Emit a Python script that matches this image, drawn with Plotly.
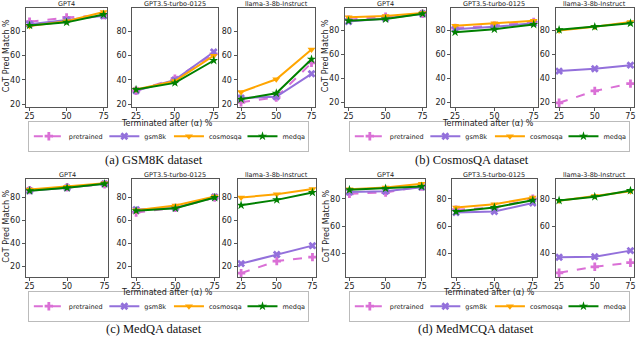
import plotly.graph_objects as go

alpha = [25, 50, 75]
series = ["pretrained", "gsm8k", "cosmosqa", "medqa"]
models = ["GPT4", "GPT3.5-turbo-0125", "llama-3-8b-Instruct"]
captions = ["(a) GSM8K dataset", "(b) CosmosQA dataset", "(c) MedQA dataset", "(d) MedMCQA dataset"]

# rows follow `series`: pretrained, gsm8k, cosmosqa, medqa
gsm8k_gpt4 = [[88, 91.5, 93.5], [86, 89.5, 93], [84.5, 88.5, 96], [85, 87.5, 94]]
gsm8k_gpt35 = [[31, 41, 61.5], [31, 40, 63], [32, 39, 60], [32, 37.5, 56]]
gsm8k_llama = [[21.5, 25.5, 54], [25, 26, 45], [30, 40.5, 65], [24, 29, 57]]

cosmos_gpt4 = [[89, 91.5, 94], [87.5, 90, 94], [91, 92, 94.5], [88, 89.5, 94]]
cosmos_gpt35 = [[82, 84, 87], [81, 83, 86], [84, 86, 88], [78.5, 81, 85]]
cosmos_llama = [[19.5, 29.5, 35.5], [46, 48, 51], [80, 83, 87], [80.5, 83, 86]]

medqa_gpt4 = [[86.5, 89, 91.5], [86, 88.5, 92], [87, 89.5, 92.5], [86, 88.5, 92]]
medqa_gpt35 = [[67, 71, 80], [69.5, 71, 80.5], [69, 73, 81], [68.5, 70.7, 80]]
medqa_llama = [[14, 24.5, 28], [22.3, 30.3, 38], [80, 83, 87.4], [73.3, 78, 84.5]]

medmc_gpt4 = [[83.7, 84.6, 89], [85, 85.5, 88.5], [87, 88.3, 91], [86.6, 87.6, 89]]
medmc_gpt35 = [[72, 73.5, 80], [70, 70.7, 77], [73.7, 76, 81], [70.7, 73.7, 79]]
medmc_llama = [[26, 30.4, 33.4], [37.3, 37.8, 42.2], [78.5, 82, 85.5], [78.8, 81.5, 86]]

panel_data = [
    [gsm8k_gpt4, gsm8k_gpt35, gsm8k_llama],
    [cosmos_gpt4, cosmos_gpt35, cosmos_llama],
    [medqa_gpt4, medqa_gpt35, medqa_llama],
    [medmc_gpt4, medmc_gpt35, medmc_llama],
]
y_ranges = [[17.3, 99.4], [15.7, 98.8], [10.3, 96.3], [22.7, 94.5]]
y_ticks = [[20, 40, 60, 80], [20, 40, 60, 80], [20, 40, 60, 80], [40, 60, 80]]

# styling
colors = ["#DA70D6", "#9370DB", "#FFA500", "#008000"]
symbols = ["cross", "x", "triangle-down", "star"]
dashes = ["dash", "solid", "solid", "solid"]

W, H = 640, 338
# pixel frames of subplots in each panel; leg = (left of first legend line, legend row centre)
panel_boxes = [
    dict(xs=[(24, 106), (131, 217), (237, 315)], ys=(8, 108), xt=(166, 124), leg=(31, 137), cap=(153, 161)),
    dict(xs=[(345, 427), (452, 539), (557, 636)], ys=(8, 108), xt=(489, 124), leg=(354, 137), cap=(473, 161)),
    dict(xs=[(24, 107), (131, 218), (237, 316)], ys=(180, 279), xt=(166, 294), leg=(31, 308), cap=(153, 331)),
    dict(xs=[(346, 426), (453, 538), (557, 636)], ys=(180, 279), xt=(490, 294), leg=(354, 308), cap=(477, 331)),
]
legend_offsets = [0, 77, 142, 216]


def px(x):
    return x / W


def py(y):
    return 1 - y / H


fig = go.Figure()
layout = {}
annotations = []
font = "DejaVu Sans"

for p, box in enumerate(panel_boxes):
    lx, ly = box["leg"]
    for k in range(3):
        i = p * 3 + k + 1
        xa = "x" if i == 1 else f"x{i}"
        ya = "y" if i == 1 else f"y{i}"
        x0, x1 = box["xs"][k]
        y0, y1 = box["ys"]
        axis_common = dict(showline=True, mirror=True, linecolor="#555", linewidth=1,
                           ticks="outside", ticklen=3, tickcolor="#555", showgrid=False,
                           zeroline=False, tickfont=dict(size=8, color="#222", family=font))
        layout["xaxis" if i == 1 else f"xaxis{i}"] = dict(
            domain=[px(x0), px(x1)], anchor=ya, range=[22.5, 77.5],
            tickvals=alpha, ticklabelstandoff=-2, **axis_common)
        layout["yaxis" if i == 1 else f"yaxis{i}"] = dict(
            domain=[py(y1), py(y0)], anchor=xa, range=y_ranges[p],
            tickvals=y_ticks[p], **axis_common)
        annotations.append(dict(text=models[k], x=px((x0 + x1) / 2), y=py(y0 - 4),
                                xref="paper", yref="paper", xanchor="center", yanchor="middle",
                                showarrow=False, font=dict(size=6.5, family=font, color="#222")))
        for s, name in enumerate(series):
            n = p * 4 + s + 1
            leg_name = "legend" if n == 1 else f"legend{n}"
            fig.add_trace(go.Scatter(
                x=alpha, y=panel_data[p][k][s], name=name, mode="lines+markers",
                xaxis=xa, yaxis=ya, legend=leg_name, showlegend=(k == 0),
                line=dict(color=colors[s], width=2, dash=dashes[s]),
                marker=dict(symbol=symbols[s], size=7, color=colors[s])))
            if k == 0:
                leg = dict(orientation="h", x=px(lx + legend_offsets[s] - 5), y=py(ly),
                           xanchor="left", yanchor="middle", borderwidth=0,
                           bgcolor="rgba(255,255,255,0)",
                           font=dict(size=6.5, family=font, color="#222"), itemwidth=30)
                if s == 0:
                    # first entry carries the frame for the whole legend row
                    leg.update(borderwidth=1, bordercolor="#bbbbbb", entrywidth=234)
                layout[leg_name] = leg
    annotations.append(dict(text="CoT Pred Match %", x=px(box["xs"][0][0] - 19.5),
                            y=py((box["ys"][0] + box["ys"][1]) / 2 - 2),
                            xref="paper", yref="paper", textangle=-90, showarrow=False,
                            xanchor="center", yanchor="middle",
                            font=dict(size=8, family=font, color="#222")))
    annotations.append(dict(text="Terminated after (\u03b1) %", x=px(box["xt"][0]), y=py(box["xt"][1]),
                            xref="paper", yref="paper", showarrow=False, xanchor="center",
                            yanchor="middle", font=dict(size=8, family=font, color="#222")))
    annotations.append(dict(text=captions[p], x=px(box["cap"][0]), y=py(box["cap"][1]),
                            xref="paper", yref="paper", showarrow=False, xanchor="center",
                            yanchor="middle", font=dict(size=12.5, family="Liberation Serif", color="#111")))

fig.update_layout(**layout)
fig.update_layout(width=W, height=H, margin=dict(l=0, r=0, t=0, b=0),
                  plot_bgcolor="white", paper_bgcolor="white", annotations=annotations)
fig.write_html("out.html", config={"displayModeBar": False},
               post_script="document.body.style.margin='0px';")
